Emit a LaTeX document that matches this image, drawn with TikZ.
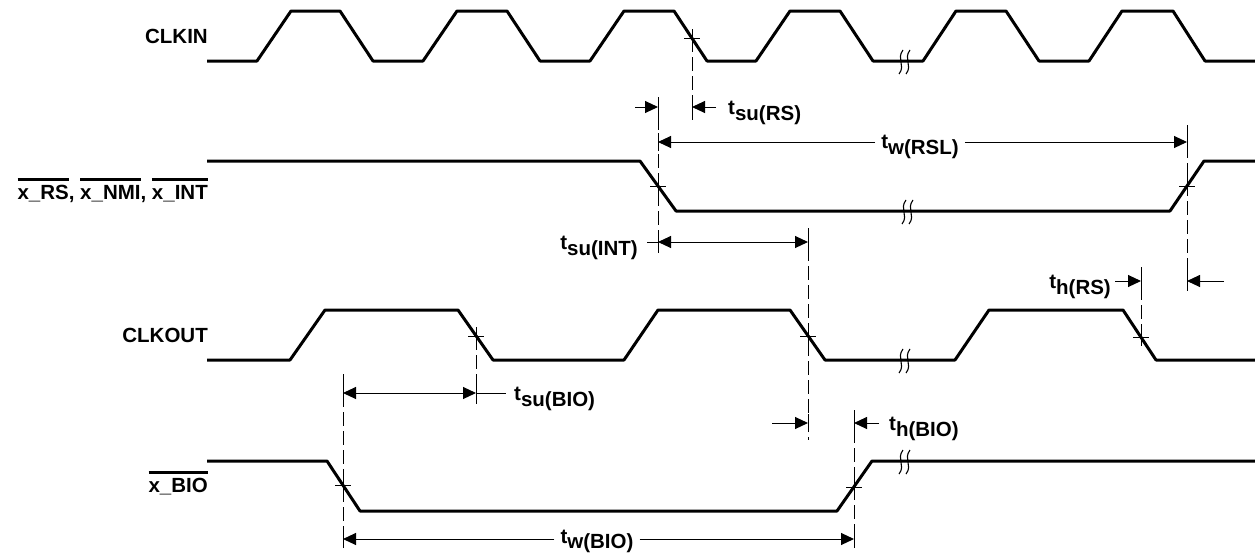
\documentclass[tikz,border=0pt]{standalone}
\usepackage{fontspec}
\setmainfont{Liberation Sans}
\usetikzlibrary{arrows.meta}
\newcommand\tlab[1]{t\raisebox{-6.5pt}{#1}}
\newcommand\myovl[1]{\vbox{\hrule height 2.7pt\kern 4pt\hbox{#1}}}
\begin{document}
\begin{tikzpicture}[x=1pt,y=-1pt,
  sig/.style={line width=3pt,line join=round},
  dim/.style={line width=1pt},
  dsh/.style={line width=1pt,dash pattern=on 14pt off 5pt},
  tip/.style={dim,-{Triangle[length=13pt,width=12pt]}},
  dbl/.style={dim,{Triangle[length=13pt,width=12pt]}-{Triangle[length=13pt,width=12pt]}},
  lbl/.style={font=\fontsize{20.5}{24}\selectfont\bfseries,inner sep=0pt},
  brkmark/.pic={\draw[line width=1.1pt] (2,-12) .. controls (-5,-3) and (5,3) .. (-2,12);
                \draw[line width=1.1pt] (9,-12) .. controls (2,-3) and (12,3) .. (5,12);},
  crossmark/.pic={\draw[dim] (-8,0) -- (8,0) (0,-9) -- (0,9);}
]
\useasboundingbox (0,0) rectangle (1255,552);

% signal labels
\node[lbl,anchor=base east] (clkin) at (208,43) {CLKIN};
\node[lbl,anchor=base east] (rs) at (208,199) {\myovl{x\_RS}, \myovl{x\_NMI}, \myovl{x\_INT}};
\node[lbl,anchor=base east] (clkout) at (208,342) {CLKOUT};
\node[lbl,anchor=base east] (bio) at (208,492) {\myovl{x\_BIO}};

% waveforms
\draw[sig] (207,61) -- (257,61) -- (291,11) -- (340,11) -- (373,61) -- (423,61) -- (457,11) -- (507,11) -- (540,61) -- (590,61) -- (624,11) -- (674,11) -- (707,61) -- (756,61) -- (790,11) -- (840,11) -- (873,61) -- (923,61) -- (956,11) -- (1006,11) -- (1039,61) -- (1089,61) -- (1122,11) -- (1173,11) -- (1205,61) -- (1256,61);
\draw[sig] (207,161) -- (640,161) -- (676,211) -- (1170,211) -- (1204,161) -- (1256,161);
\draw[sig] (207,360) -- (290,360) -- (325,310) -- (458,310) -- (493,360) -- (624,360) -- (658,310) -- (790,310) -- (825,360) -- (955,360) -- (989,310) -- (1123,310) -- (1156,360) -- (1256,360);
\draw[sig] (207,461) -- (327,461) -- (360,511) -- (837,511) -- (872,461) -- (1256,461);

% break marks
\pic at (901,62) {brkmark};
\pic at (904,212) {brkmark};
\pic at (901,361) {brkmark};
\pic at (901,462) {brkmark};

% crossing points
\coordinate (xa) at (692,38);
\coordinate (xb) at (658,186);
\coordinate (xc) at (1187,186);
\coordinate (xd) at (476,336);
\coordinate (xe) at (808,336);
\coordinate (xf) at (1141,337);
\coordinate (xg) at (343,485);
\coordinate (xh) at (854,487);
\foreach \p in {xa,xb,xc,xd,xe,xf,xg,xh} \pic at (\p) {crossmark};

% dashed reference lines
\coordinate (ya) at (692,120);
\coordinate (yb1) at (658,97);  \coordinate (yb2) at (658,253);
\coordinate (yc1) at (1187,125); \coordinate (yc2) at (1187,292);
\coordinate (ye1) at (808,228); \coordinate (ye2) at (808,440);
\coordinate (yf) at (1141,267);
\coordinate (yd) at (476,404);
\coordinate (yg1) at (343,374); \coordinate (yg2) at (343,548);
\coordinate (yh1) at (854,410); \coordinate (yh2) at (854,548);
\draw[dsh] (xa) -- (ya);
\draw[dsh] (yb1) -- (yb2);
\draw[dsh] (yc1) -- (yc2);
\draw[dsh] (ye1) -- (ye2);
\draw[dsh] (yf) -- (xf);
\draw[dsh] (xd) -- (yd);
\draw[dsh] (yg1) -- (yg2);
\draw[dsh] (yh1) -- (yh2);

% timing labels
\node[lbl,anchor=base west] (tsurs) at (728,114) {\tlab{su(RS)}};
\node[lbl,anchor=base,inner xsep=6pt] (twrsl) at (920,148) {\tlab{w(RSL)}};
\node[lbl,anchor=base east] (tsuint) at (638,249) {\tlab{su(INT)}};
\node[lbl,anchor=base east] (thrs) at (1111,288) {\tlab{h(RS)}};
\node[lbl,anchor=base west] (tsubio) at (514,400) {\tlab{su(BIO)}};
\node[lbl,anchor=base west] (thbio) at (889,430) {\tlab{h(BIO)}};
\node[lbl,anchor=base,inner xsep=6pt] (twbio) at (597,543) {t\raisebox{-5pt}{w(BIO)}};

% t_su(RS)
\coordinate (a1) at (635,107); \coordinate (a2) at (658,107);
\coordinate (a3) at (716,107); \coordinate (a4) at (692,107);
\draw[tip] (a1) -- (a2);
\draw[tip] (a3) -- (a4);
% t_w(RSL)
\coordinate (b1) at (658,142); \coordinate (b2) at (1187,142);
\draw[tip] (twrsl.west |- b1) -- (b1);
\draw[tip] (twrsl.east |- b2) -- (b2);
% t_su(INT)
\coordinate (c0) at (647,242); \coordinate (c1) at (658,242); \coordinate (c2) at (808,242);
\draw[dim] (c0) -- (c1);
\draw[dbl] (c1) -- (c2);
% t_h(RS)
\coordinate (d1) at (1115,281); \coordinate (d2) at (1141,281);
\coordinate (d3) at (1224,281); \coordinate (d4) at (1187,281);
\draw[tip] (d1) -- (d2);
\draw[tip] (d3) -- (d4);
% t_su(BIO)
\coordinate (e1) at (343,393); \coordinate (e2) at (476,393); \coordinate (e3) at (506,393);
\draw[dbl] (e1) -- (e2);
\draw[dim] (e2) -- (e3);
% t_h(BIO)
\coordinate (f1) at (772,423); \coordinate (f2) at (808,423);
\coordinate (f3) at (879,423); \coordinate (f4) at (854,423);
\draw[tip] (f1) -- (f2);
\draw[tip] (f3) -- (f4);
% t_w(BIO)
\coordinate (g1) at (343,539); \coordinate (g2) at (854,539);
\draw[tip] (twbio.west |- g1) -- (g1);
\draw[tip] (twbio.east |- g2) -- (g2);

% solid ticks at arrow tips
\foreach \p in {a2,a4,b1,b2,c1,c2,d2,d4,e1,e2,f2,f4,g1,g2}
  \draw[dim] ([yshift=-9pt]\p) -- ([yshift=9pt]\p);
\end{tikzpicture}
\end{document}
